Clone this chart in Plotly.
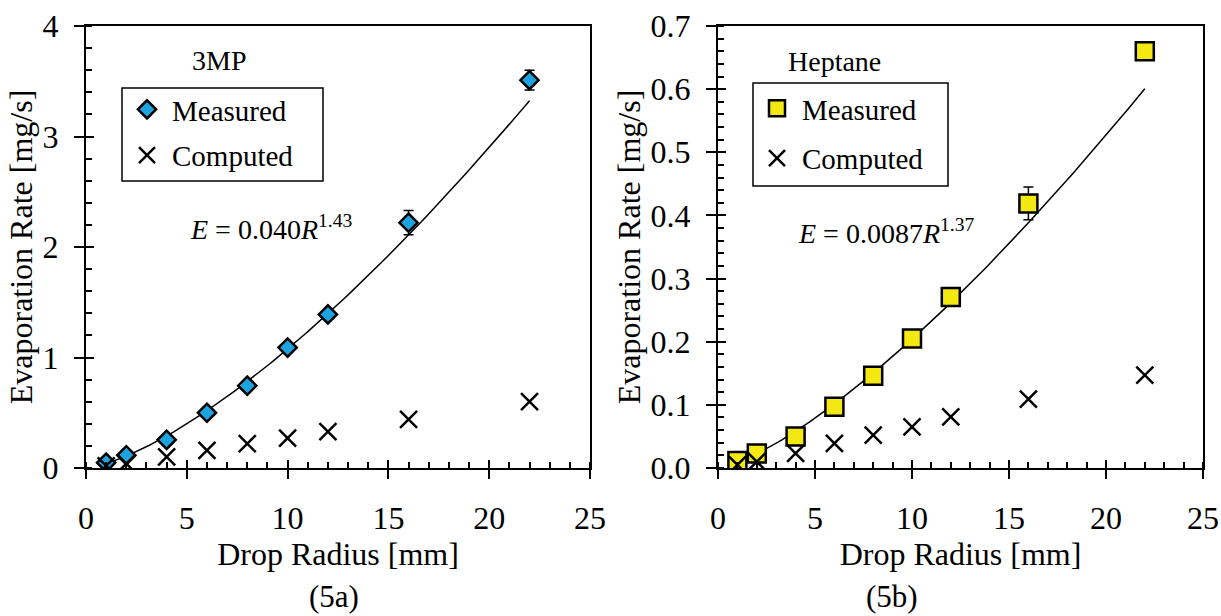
import numpy as np
import plotly.graph_objects as go

# ---------------- data ----------------
radius_mm = [1, 2, 4, 6, 8, 10, 12, 16, 22]

mp_measured = [0.048, 0.115, 0.255, 0.50, 0.745, 1.09, 1.39, 2.22, 3.51]
mp_error = [0.01, 0.01, 0.015, 0.02, 0.02, 0.03, 0.03, 0.11, 0.09]
mp_computed = [0.02, 0.04, 0.10, 0.16, 0.22, 0.27, 0.33, 0.44, 0.60]
mp_fit_coef, mp_fit_exp = 0.040, 1.43

hp_measured = [0.011, 0.023, 0.050, 0.097, 0.146, 0.205, 0.271, 0.419, 0.660]
hp_error = [0.002, 0.002, 0.003, 0.004, 0.005, 0.006, 0.008, 0.026, 0.010]
hp_computed = [0.005, 0.010, 0.023, 0.039, 0.052, 0.065, 0.081, 0.109, 0.147]
hp_fit_coef, hp_fit_exp = 0.0087, 1.37

x_ticks = [0, 5, 10, 15, 20, 25]
mp_y_ticks = [0, 1, 2, 3, 4]
hp_y_ticks = [0.0, 0.1, 0.2, 0.3, 0.4, 0.5, 0.6, 0.7]

# ---------------- style ----------------
FONT = "Liberation Serif"
BLUE = "#1CA4E0"
YELLOW = "#F3E812"

W, H = 1221, 616
ML, MR, MT, MB = 86, 18, 26, 148
PW = W - ML - MR
PH = H - MT - MB


def px_to_xdom(px):
    return (px - ML) / PW


def py_to_ydom(py):
    return (H - MB - py) / PH


fig = go.Figure()

fit_r = np.linspace(min(radius_mm), max(radius_mm), 120)

# ---- left panel (3MP) ----
fig.add_trace(go.Scatter(
    x=fit_r, y=mp_fit_coef * fit_r ** mp_fit_exp, mode="lines",
    line=dict(color="black", width=1.5), showlegend=False, hoverinfo="skip",
    xaxis="x", yaxis="y"))
fig.add_trace(go.Scatter(
    x=radius_mm, y=mp_measured, mode="markers", name="Measured",
    error_y=dict(type="data", array=mp_error, color="black", thickness=1.5, width=5),
    marker=dict(symbol="diamond", size=14, color=BLUE, line=dict(color="black", width=2.5)),
    legend="legend", legendgroup="m1", legendrank=1, xaxis="x", yaxis="y"))
fig.add_trace(go.Scatter(
    x=radius_mm, y=mp_computed, mode="markers", name="Computed",
    marker=dict(symbol="x-thin", size=17, line=dict(color="black", width=2.5)),
    legend="legend", legendgroup="c1", legendrank=2, xaxis="x", yaxis="y"))

# ---- right panel (Heptane) ----
fig.add_trace(go.Scatter(
    x=fit_r, y=hp_fit_coef * fit_r ** hp_fit_exp, mode="lines",
    line=dict(color="black", width=1.5), showlegend=False, hoverinfo="skip",
    xaxis="x2", yaxis="y2"))
fig.add_trace(go.Scatter(
    x=radius_mm, y=hp_measured, mode="markers", name="Measured",
    error_y=dict(type="data", array=hp_error, color="black", thickness=1.5, width=5),
    marker=dict(symbol="square", size=18, color=YELLOW, line=dict(color="black", width=2.5)),
    legend="legend2", legendgroup="m2", legendrank=1, xaxis="x2", yaxis="y2"))
fig.add_trace(go.Scatter(
    x=radius_mm, y=hp_computed, mode="markers", name="Computed",
    marker=dict(symbol="x-thin", size=17, line=dict(color="black", width=2.5)),
    legend="legend2", legendgroup="c2", legendrank=2, xaxis="x2", yaxis="y2"))

# dummy traces to instantiate overlay axes (inner half of crossing major ticks)
for xa, ya in [("x3", "y"), ("x", "y3"), ("x4", "y2"), ("x2", "y4")]:
    fig.add_trace(go.Scatter(x=[None], y=[None], mode="markers", showlegend=False,
                             hoverinfo="skip", xaxis=xa, yaxis=ya))

left_dom = [0, px_to_xdom(590)]
right_dom = [px_to_xdom(718), 1]

tickfont = dict(family=FONT, size=32, color="black")
titlefont = dict(family=FONT, size=32, color="black")

base_x = dict(range=[0, 25], tickvals=x_ticks, ticks="outside", ticklen=9, tickwidth=2,
              tickcolor="black", showline=True, linewidth=2, linecolor="black", mirror=True,
              showgrid=False, zeroline=False, tickfont=tickfont, automargin=False,
              ticklabelstandoff=12,
              minor=dict(ticks="inside", dtick=1, ticklen=6, tickwidth=1.5, tickcolor="black",
                         showgrid=False),
              title=dict(text="Drop Radius [mm]", font=titlefont, standoff=4))

base_y = dict(ticks="outside", ticklen=10, tickwidth=2, tickcolor="black",
              showline=True, linewidth=2, linecolor="black", mirror=True,
              showgrid=False, zeroline=False, tickfont=tickfont, automargin=False,
              ticklabelstandoff=9,
              title=dict(text="Evaporation Rate [mg/s]", font=titlefont, standoff=0))

over_x = dict(range=[0, 25], tickvals=x_ticks, ticks="inside", ticklen=8, tickwidth=2,
              tickcolor="black", showticklabels=False, showline=False, showgrid=False,
              zeroline=False, automargin=False)
over_y = dict(ticks="inside", ticklen=8, tickwidth=2, tickcolor="black",
              showticklabels=False, showline=False, showgrid=False, zeroline=False,
              automargin=False)

legend_common = dict(xanchor="left", yanchor="top", borderwidth=0,
                     bgcolor="rgba(0,0,0,0)", font=dict(family=FONT, size=29, color="black"),
                     traceorder="grouped", itemwidth=40)

fig.update_layout(
    width=W, height=H,
    margin=dict(l=ML, r=MR, t=MT, b=MB),
    paper_bgcolor="white", plot_bgcolor="white",
    font=dict(family=FONT, size=28, color="black"),
    xaxis=dict(base_x, domain=left_dom, anchor="y"),
    yaxis=dict(base_y, domain=[0, 1], anchor="x", range=[0, 4], tickvals=mp_y_ticks,
               tickformat="d",
               minor=dict(ticks="inside", dtick=0.2, ticklen=6, tickwidth=1.5,
                          tickcolor="black", showgrid=False)),
    xaxis2=dict(base_x, domain=right_dom, anchor="y2"),
    yaxis2=dict(base_y, domain=[0, 1], anchor="x2", range=[0, 0.7], tickvals=hp_y_ticks,
                tickformat=".1f",
                minor=dict(ticks="inside", dtick=0.02, ticklen=6, tickwidth=1.5,
                           tickcolor="black", showgrid=False)),
    xaxis3=dict(over_x, domain=left_dom, overlaying="x", anchor="y"),
    yaxis3=dict(over_y, domain=[0, 1], overlaying="y", anchor="x", range=[0, 4],
                tickvals=mp_y_ticks),
    xaxis4=dict(over_x, domain=right_dom, overlaying="x2", anchor="y2"),
    yaxis4=dict(over_y, domain=[0, 1], overlaying="y2", anchor="x2", range=[0, 0.7],
                tickvals=hp_y_ticks),
    legend=dict(legend_common, x=px_to_xdom(122), y=py_to_ydom(84), tracegroupgap=5),
    legend2=dict(legend_common, x=px_to_xdom(752), y=py_to_ydom(83), tracegroupgap=9),
    showlegend=True,
)

# legend frames
for (x0, y0, x1, y1) in [(122, 88, 323, 181), (753, 83, 948, 186)]:
    fig.add_shape(type="rect", xref="paper", yref="paper",
                  x0=px_to_xdom(x0), x1=px_to_xdom(x1), y0=py_to_ydom(y1), y1=py_to_ydom(y0),
                  line=dict(color="black", width=1.5), fillcolor="white", layer="above")

ann_font = dict(family=FONT, size=28, color="black")
fig.add_annotation(x=6.6, y=3.69, xref="x", yref="y", text="3MP", showarrow=False,
                   font=ann_font)
fig.add_annotation(x=9.2, y=2.18, xref="x", yref="y",
                   text="<i>E</i> = 0.040<i>R</i><sup>1.43</sup>", showarrow=False,
                   font=ann_font)
fig.add_annotation(x=6.0, y=0.643, xref="x2", yref="y2", text="Heptane", showarrow=False,
                   font=ann_font)
fig.add_annotation(x=8.7, y=0.375, xref="x2", yref="y2",
                   text="<i>E</i> = 0.0087<i>R</i><sup>1.37</sup>", showarrow=False,
                   font=ann_font)
fig.add_annotation(x=px_to_xdom(307), y=py_to_ydom(616), xref="paper", yref="paper",
                   yanchor="bottom", text="(5a)", showarrow=False,
                   font=dict(family=FONT, size=31, color="black"))
fig.add_annotation(x=px_to_xdom(920), y=py_to_ydom(616), xref="paper", yref="paper",
                   yanchor="bottom", text="(5b)", showarrow=False,
                   font=dict(family=FONT, size=31, color="black"))

fig.write_html("out.html")
